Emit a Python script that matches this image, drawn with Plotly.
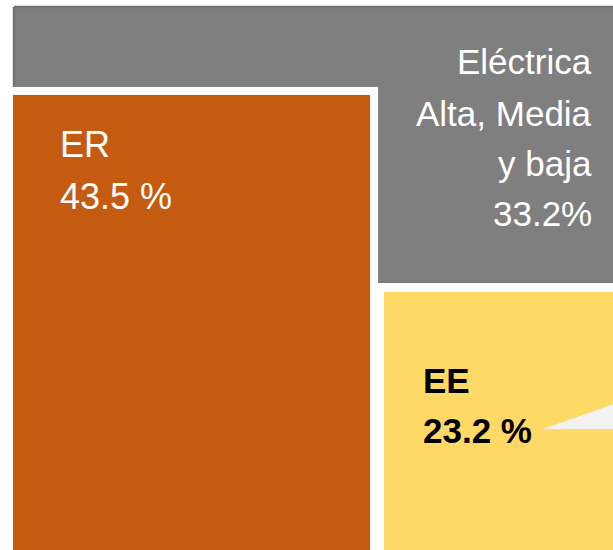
import plotly.graph_objects as go

# ---- data ----
categories = ["ER", "Eléctrica Alta, Media y baja", "EE"]
shares = [43.5, 33.2, 23.2]
label_lines = [["ER", "43.5 %"], ["Eléctrica", "Alta, Media", "y baja", "33.2%"], ["EE", "23.2 %"]]

# ---- layout of the illustrative tiles (axis units = px of the 613x550 canvas) ----
W, H = 613, 550
tiles = {
    "gray":   dict(x0=14, x1=640, y0=7, y1=283, fill="#7F7F7F", line="#767272", lw=2.5),
    "gapER":  dict(x0=5, x1=378, y0=87, y1=580, fill="#FFFFFF", line=None, lw=0),
    "ER":     dict(x0=13, x1=370, y0=95, y1=580, fill="#C55A11", line=None, lw=0),
    "gapEE":  dict(x0=378, x1=640, y0=283, y1=580, fill="#FFFFFF", line=None, lw=0),
    "EE":     dict(x0=384, x1=640, y0=292, y1=580, fill="#FFD966", line=None, lw=0),
}

fig = go.Figure()
for name, t in tiles.items():
    fig.add_trace(go.Scatter(
        x=[t["x0"], t["x1"], t["x1"], t["x0"], t["x0"]],
        y=[t["y0"], t["y0"], t["y1"], t["y1"], t["y0"]],
        mode="lines", fill="toself", fillcolor=t["fill"],
        line=dict(color=t["line"] if t["line"] else t["fill"], width=t["lw"] if t["lw"] else 0.1),
        hoverinfo="skip", showlegend=False,
    ))

# callout pointer
fig.add_trace(go.Scatter(
    x=[543, 640, 640, 543], y=[429, 395, 429, 429],
    mode="lines", fill="toself", fillcolor="#F2F2F2",
    line=dict(color="#F2F2F2", width=0.1), hoverinfo="skip", showlegend=False,
))

font_family = "Liberation Sans Narrow, Arial Narrow, Liberation Sans, Arial, sans-serif"

# ER label
for txt, yc in zip(label_lines[0], [144, 196]):
    fig.add_annotation(x=58, y=yc, text=txt, showarrow=False, xanchor="left", yanchor="middle",
                       font=dict(family=font_family, size=36, color="white"))
# Eléctrica label
for txt, yc in zip(label_lines[1], [61, 113, 163, 213]):
    fig.add_annotation(x=594, y=yc, text=txt, showarrow=False, xanchor="right", yanchor="middle",
                       font=dict(family=font_family, size=35, color="white"))
# EE label
for txt, yc in zip(label_lines[2], [380, 430]):
    fig.add_annotation(x=421, y=yc, text="<b>" + txt + "</b>", showarrow=False, xanchor="left", yanchor="middle",
                       font=dict(family=font_family, size=35, color="black"))

fig.update_layout(
    width=W, height=H, margin=dict(l=0, r=0, t=0, b=0),
    paper_bgcolor="white", plot_bgcolor="white",
    xaxis=dict(range=[0, W], visible=False, fixedrange=True),
    yaxis=dict(range=[H, 0], visible=False, fixedrange=True),
    showlegend=False,
)
fig.write_html("out.html", config={"displayModeBar": False},
               post_script="document.body.style.margin='0px';")
